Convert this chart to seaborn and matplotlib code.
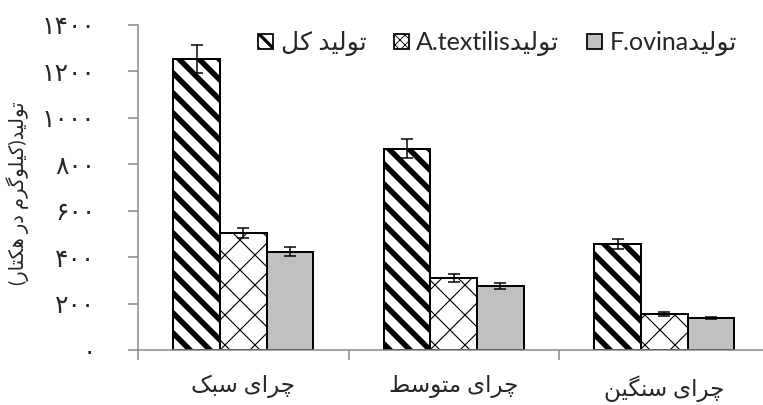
import re
import matplotlib
matplotlib.use('Agg')
import matplotlib.pyplot as plt
import numpy as np
import pandas as pd
import seaborn as sns

# Data
grazing = ['چرای سبک', 'چرای متوسط', 'چرای سنگین']
species = ['تولید کل', 'تولیدA.textilis', 'تولیدF.ovina']
total = [1252, 867, 457]
textilis = [503, 310, 155]
ovina = [424, 276, 138]
err_total = [60, 42, 23]
err_textilis = [22, 17, 8]
err_ovina = [20, 13, 5]
y_ticks = [0, 200, 400, 600, 800, 1000, 1200, 1400]
y_label = 'تولید(کیلوگرم در هکتار)'

# matplotlib 3.10 does not shape Arabic script, so build presentation forms by hand
FORMS = {
    'ا': ('\uFE8D', '\uFE8E', None, None),
    'ب': ('\uFE8F', '\uFE90', '\uFE91', '\uFE92'),
    'ت': ('\uFE95', '\uFE96', '\uFE97', '\uFE98'),
    'د': ('\uFEA9', '\uFEAA', None, None),
    'ر': ('\uFEAD', '\uFEAE', None, None),
    'س': ('\uFEB1', '\uFEB2', '\uFEB3', '\uFEB4'),
    'ط': ('\uFEC1', '\uFEC2', '\uFEC3', '\uFEC4'),
    'ل': ('\uFEDD', '\uFEDE', '\uFEDF', '\uFEE0'),
    'م': ('\uFEE1', '\uFEE2', '\uFEE3', '\uFEE4'),
    'ن': ('\uFEE5', '\uFEE6', '\uFEE7', '\uFEE8'),
    'ه': ('\uFEE9', '\uFEEA', '\uFEEB', '\uFEEC'),
    'و': ('\uFEED', '\uFEEE', None, None),
    'چ': ('\uFB7A', '\uFB7B', '\uFB7C', '\uFB7D'),
    'ک': ('\uFB8E', '\uFB8F', '\uFB90', '\uFB91'),
    'گ': ('\uFB92', '\uFB93', '\uFB94', '\uFB95'),
    'ی': ('\uFBFC', '\uFBFD', '\uFBFE', '\uFBFF'),
}
MIRROR = {'(': ')', ')': '('}


def shape_rtl(s):
    out = []
    for i, ch in enumerate(s):
        if ch not in FORMS:
            out.append(MIRROR.get(ch, ch))
            continue
        prev = s[i - 1] if i > 0 else ''
        nxt = s[i + 1] if i + 1 < len(s) else ''
        join_prev = prev in FORMS and FORMS[prev][2] is not None
        join_next = nxt in FORMS and FORMS[ch][2] is not None
        iso, fin, ini, med = FORMS[ch]
        if join_prev and join_next:
            out.append(med)
        elif join_prev:
            out.append(fin)
        elif join_next:
            out.append(ini)
        else:
            out.append(iso)
    return ''.join(out[::-1])


def fa(s):
    runs = re.findall(r'[A-Za-z.]+|[^A-Za-z.]+', s)
    return ''.join(r if re.match(r'[A-Za-z.]', r) else shape_rtl(r) for r in runs[::-1])


def fa_num(v):
    return str(int(v)).translate(str.maketrans('0123456789', '۰۱۲۳۴۵۶۷۸۹'))


df = pd.DataFrame({
    'grazing': grazing * 3,
    'species': [species[0]] * 3 + [species[1]] * 3 + [species[2]] * 3,
    'value': total + textilis + ovina,
    'err': err_total + err_textilis + err_ovina,
})

sns.set_theme(style='white')
plt.rcParams['font.family'] = ['Lato', 'DejaVu Sans']

DPI = 180
fig = plt.figure(figsize=(763 / DPI, 405 / DPI), dpi=DPI)
ax = fig.add_axes([138 / 763, 55 / 405, 631.5 / 763, 325 / 405])

sns.barplot(data=df, x='grazing', y='value', hue='species', hue_order=species,
            palette=['white', 'white', '#c0c0c0'], width=0.665, errorbar=None,
            edgecolor='black', linewidth=0.8, ax=ax, legend=True)

hatches = ['\\' * 3, 'xx', '']
hatch_lw = [2.2, 0.45, 0.5]


def style_hatch(patch, h, hl):
    patch.set_hatch(h)
    if hasattr(patch, 'set_hatch_linewidth'):
        patch.set_hatch_linewidth(hl)


for container, h, hl in zip(ax.containers, hatches, hatch_lw):
    for bar in container:
        style_hatch(bar, h, hl)

# error bars on top of each bar
for container, sp in zip(ax.containers, species):
    sub = df[df['species'] == sp]
    xs = [b.get_x() + b.get_width() / 2 for b in container]
    ax.errorbar(xs, sub['value'], yerr=sub['err'], fmt='none', ecolor='black',
                elinewidth=0.6, capsize=2.4, capthick=0.6, zorder=5)

ax.set_xlim(-0.5, 2.5)
ax.set_ylim(0, 1400)
ax.set_yticks(y_ticks)
ax.set_yticklabels([fa_num(v) for v in y_ticks])
ax.set_xticks(range(len(grazing)))
ax.set_xticklabels([fa(g) for g in grazing])
ax.set_xlabel('')
ax.set_ylabel(fa(y_label), fontsize=7.8)
ax.yaxis.set_label_coords(-0.172, 0.483)

ax.set_xticks([-0.5, 0.5, 1.5], minor=True)
ax.tick_params(axis='x', which='major', length=0, pad=10, labelsize=9.2)
ax.tick_params(axis='x', which='minor', length=4, width=0.6, color='#868686', direction='out', bottom=True)
ax.tick_params(axis='y', length=4, width=0.6, color='#868686', direction='out', left=True, pad=13, labelsize=10)

sns.despine(ax=ax)
for sp_name in ['left', 'bottom']:
    ax.spines[sp_name].set_color('#868686')
    ax.spines[sp_name].set_linewidth(0.6)

handles, labels = ax.get_legend_handles_labels()
leg = ax.legend(handles, [fa(l) for l in species], loc='upper center', ncol=3,
                bbox_to_anchor=(0.569, 1.05), frameon=False, fontsize=10,
                handlelength=0.6, handleheight=0.6, handletextpad=0.3, columnspacing=1.1)
for patch, h, hl in zip(leg.get_patches(), ['\\' * 4, 'x' * 6, ''], [1.3, 0.35, 0.5]):
    style_hatch(patch, h, hl)
    patch.set_edgecolor('black')
    patch.set_linewidth(0.7)

fig.savefig('out.png', dpi=DPI)
